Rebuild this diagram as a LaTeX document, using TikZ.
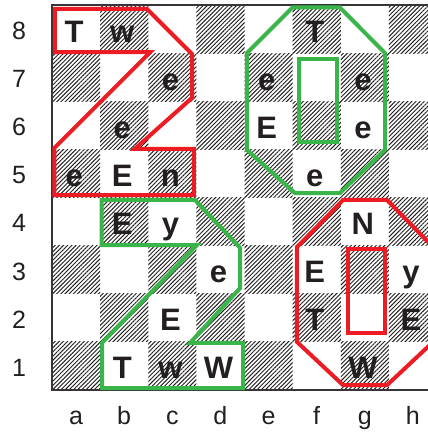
\documentclass[tikz,border=0pt]{standalone}
\usepackage{fontspec}
\setmainfont{Liberation Sans}
\usetikzlibrary{patterns.meta}
\definecolor{zred}{RGB}{237,28,36}
\definecolor{zgreen}{RGB}{57,181,74}
\definecolor{ink}{RGB}{35,31,32}
\tikzset{
  darksq/.style={pattern={Lines[angle=45,distance=2.95pt,line width=0.95pt]},pattern color=ink},
  piece/.style={anchor=base,inner sep=0pt,text=ink,font=\fontsize{31}{31}\selectfont\bfseries},
  coordlabel/.style={anchor=base,inner sep=0pt,text=ink,font=\fontsize{25}{25}\selectfont},
  redline/.style={draw=zred,line width=4pt,line join=miter},
  greenline/.style={draw=zgreen,line width=4pt,line join=miter},
  boardedge/.style={draw=ink!90,line width=2pt}
}
\begin{document}
\begin{tikzpicture}[x=1pt,y=-1pt]
\useasboundingbox (0,0) rectangle (428,434);
\clip (0,0) rectangle (428,434);
\fill[white] (0,0) rectangle (428,434);
\begin{scope}[shift={(52,5)},x=48.125pt,y=-48.125pt]
  % squares
  \foreach \c in {0,...,7}{
    \foreach \r in {0,...,7}{
      \pgfmathtruncatemacro{\odd}{mod(\c+\r,2)}
      \ifnum\odd=1
        \path[darksq] (\c,\r) rectangle ++(1,1);
      \fi
    }
  }
  \draw[boardedge] (0,0) rectangle (8,8);
  % rank labels
  \foreach \r/\n in {0/8,1/7,2/6,3/5,4/4,5/3,6/2,7/1}{
    \node[coordlabel] (rank\n) at (-0.686,\r+0.716) {\n};
  }
  % file labels
  \foreach \c/\f in {0/a,1/b,2/c,3/d,4/e,5/f,6/g,7/h}{
    \node[coordlabel] (file\f) at (\c+0.5,8.727) {\f};
  }
  % pieces
  \foreach \c/\r/\t/\nm in {
    0/0/T/a8, 1/0/w/b8, 2/1/e/c7, 1/2/e/b6, 0/3/e/a5, 1/3/E/b5, 2/3/n/c5,
    1/4/E/b4, 2/4/y/c4, 3/5/e/d3, 2/6/E/c2, 1/7/T/b1, 2/7/w/c1, 3/7/W/d1,
    5/0/T/f8, 4/1/e/e7, 6/1/e/g7, 4/2/E/e6, 6/2/e/g6, 5/3/e/f5,
    6/4/N/g4, 5/5/E/f3, 7/5/y/h3, 5/6/T/f2, 7/6/E/h2, 6/7/W/g1}{
    \node[piece] (p\nm) at (\c+0.46,\r+0.77) {\t};
  }
  % red Z
  \draw[redline] (0.06,0.08) -- (1.97,0.08) -- (2.91,1.02) -- (2.91,1.93)
    -- (1.72,2.99) -- (2.95,2.99) -- (2.95,3.95) -- (0.05,3.95) -- (0.05,2.97)
    -- (2.04,0.98) -- (0.06,0.98) -- cycle;
  % green Z
  \draw[greenline] (1.03,4.05) -- (2.97,4.05) -- (3.91,5.05) -- (3.91,5.88)
    -- (2.87,7.02) -- (3.97,7.02) -- (3.97,7.96) -- (1.04,7.96) -- (1.04,7.02)
    -- (3.01,4.99) -- (1.03,4.99) -- cycle;
  % green octagon
  \draw[greenline] (5.0,0.05) -- (5.98,0.05) -- (6.92,1.0) -- (6.92,3.01)
    -- (5.98,3.91) -- (5.05,3.91) -- (4.05,3.01) -- (4.05,1.0) -- cycle;
  \draw[greenline] (5.13,1.12) rectangle (5.93,2.85);
  % red octagon
  \draw[redline] (6.05,4.05) -- (6.96,4.05) -- (7.92,5.03) -- (7.92,7.0)
    -- (6.96,7.9) -- (6.05,7.9) -- (5.09,7.0) -- (5.09,5.03) -- cycle;
  \draw[redline] (6.15,5.07) rectangle (6.92,6.82);
\end{scope}
\end{tikzpicture}
\end{document}
